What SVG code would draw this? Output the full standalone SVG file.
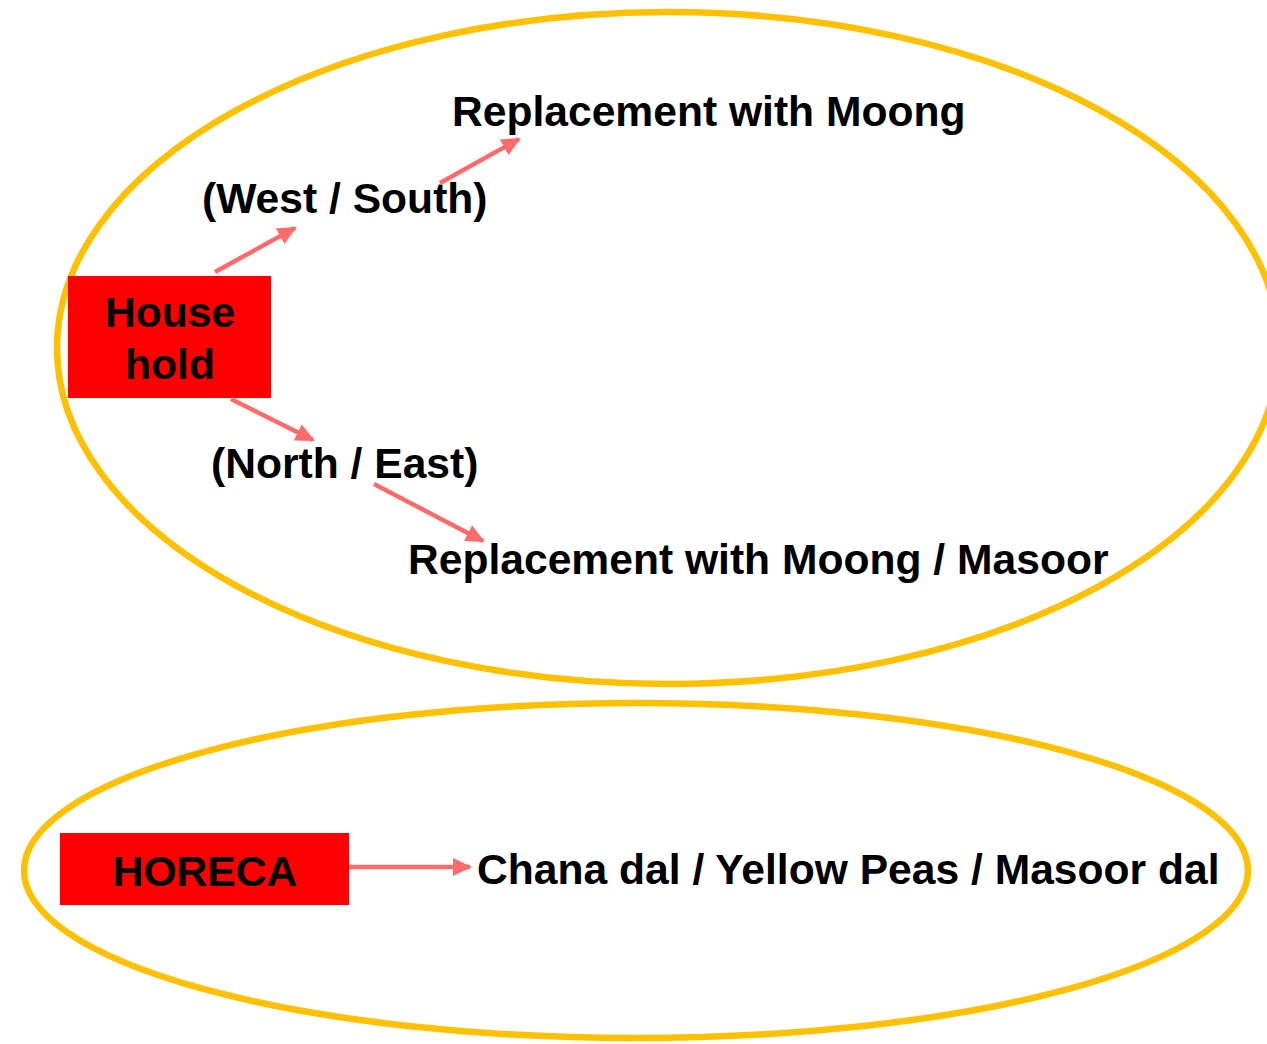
<svg xmlns="http://www.w3.org/2000/svg" width="1267" height="1044" viewBox="0 0 1267 1044">
<style>
.ring{fill:none;stroke:#FFC000;stroke-width:6.5}
.box{fill:#FF0000}
.t{font-family:"Liberation Sans",Arial,sans-serif;font-weight:bold;font-size:42.6px;fill:#000}
.c{text-anchor:middle}
.arr{stroke:#FF6B6B;stroke-width:4.5;fill:none;marker-end:url(#ah)}
</style>
<defs>
<marker id="ah" markerUnits="userSpaceOnUse" markerWidth="19" markerHeight="18" refX="17" refY="9" orient="auto" viewBox="0 0 19 18">
<path d="M0,0 L19,9 L0,18 z" fill="#FF6B6B"/>
</marker>
</defs>
<rect width="1267" height="1044" fill="#fff"/>
<g id="household-region">
<ellipse class="ring" cx="668" cy="348" rx="611" ry="336"/>
</g>
<g id="horeca-region">
<ellipse class="ring" cx="636" cy="870.5" rx="612" ry="167.5"/>
</g>
<g id="household">
<rect class="box" x="68" y="276" width="203" height="122"/>
<text class="t c" x="170" y="327">House</text>
<text class="t c" x="170" y="379">hold</text>
</g>
<g id="west-south">
<text class="t" x="202" y="213">(West / South)</text>
</g>
<g id="north-east">
<text class="t" x="211" y="478">(North / East)</text>
</g>
<g id="replace-moong">
<text class="t" x="452" y="126">Replacement with Moong</text>
</g>
<g id="replace-moong-masoor">
<text class="t" x="408" y="574">Replacement with Moong / Masoor</text>
</g>
<g id="horeca">
<rect class="box" x="60" y="833" width="289" height="72"/>
<text class="t c" x="205" y="886">HORECA</text>
</g>
<g id="horeca-result">
<text class="t" x="477" y="884">Chana dal / Yellow Peas / Masoor dal</text>
</g>
<g id="connectors">
<line class="arr" x1="215" y1="272" x2="295" y2="228"/>
<line class="arr" x1="440" y1="183" x2="519" y2="139"/>
<line class="arr" x1="231" y1="399" x2="313" y2="440"/>
<line class="arr" x1="374" y1="484" x2="483" y2="541"/>
<line class="arr" x1="349" y1="867" x2="470" y2="867"/>
</g>
</svg>
